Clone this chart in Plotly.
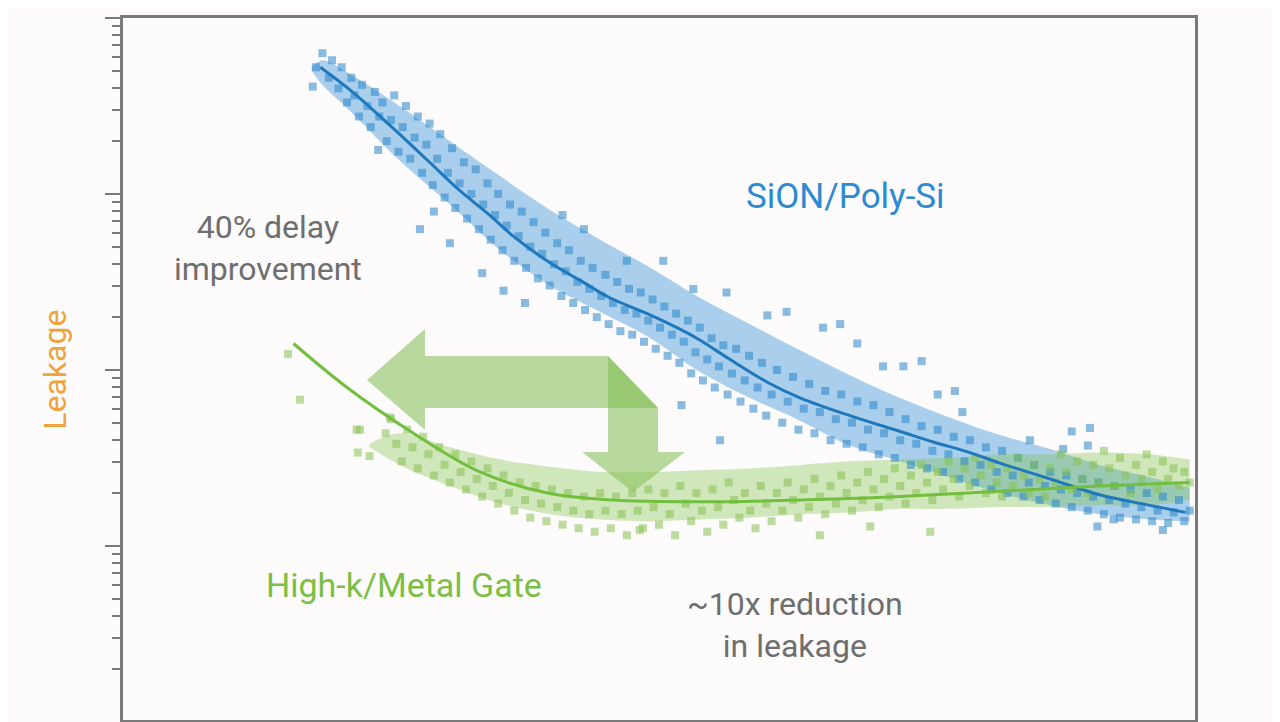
import plotly.graph_objects as go

# Delay (a.u., 0-100 across the plot) and log10(leakage)
sion_fit_delay = [18.4, 21.2, 24.0, 25.8, 28.6, 31.4, 34.2, 36.4, 39.8, 42.6, 45.4, 48.9, 52.0,
                  53.8, 56.6, 60.1, 63.2, 67.8, 72.5, 75.6, 79.0, 81.8, 86.5, 91.1, 95.8, 99.1]
sion_fit_log = [3.72, 3.59, 3.44, 3.34, 3.18, 3.02, 2.88, 2.76, 2.61, 2.51, 2.41, 2.32, 2.23,
                2.17, 2.06, 1.93, 1.84, 1.74, 1.65, 1.59, 1.53, 1.47, 1.38, 1.29, 1.23, 1.19]

hkmg_fit_delay = [15.9, 20.9, 27.1, 33.3, 39.6, 45.7, 53.5, 63.2, 72.5, 81.8, 91.1, 99.5]
hkmg_fit_log = [2.15, 1.90, 1.64, 1.42, 1.30, 1.26, 1.25, 1.26, 1.28, 1.31, 1.34, 1.36]

# dense core of each cloud (upper / lower edge)
sion_core_delay = [17.6, 18.6, 21.2, 25.8, 30.5, 35.2, 39.8, 44.5, 49.2, 53.8, 58.5, 63.2, 67.8,
                   72.5, 77.1, 81.8, 86.5, 91.1, 95.8, 99.5]
sion_core_top = [3.72, 3.76, 3.68, 3.50, 3.30, 3.10, 2.91, 2.74, 2.58, 2.41, 2.26, 2.11, 1.97,
                 1.84, 1.73, 1.63, 1.55, 1.46, 1.39, 1.33]
sion_core_bottom = [3.70, 3.62, 3.47, 3.19, 2.94, 2.68, 2.48, 2.33, 2.18, 1.99, 1.84, 1.71, 1.57,
                    1.48, 1.39, 1.30, 1.23, 1.18, 1.15, 1.14]

hkmg_core_delay = [23.0, 25.8, 30.5, 35.2, 39.8, 44.5, 49.2, 53.8, 58.5, 63.2, 67.8, 72.5, 77.1,
                   81.8, 86.5, 91.1, 95.8, 99.5]
hkmg_core_top = [1.58, 1.64, 1.56, 1.49, 1.45, 1.42, 1.42, 1.43, 1.44, 1.46, 1.48, 1.49, 1.50,
                 1.52, 1.52, 1.53, 1.52, 1.49]
hkmg_core_bottom = [1.56, 1.46, 1.34, 1.24, 1.18, 1.15, 1.14, 1.15, 1.16, 1.18, 1.19, 1.21, 1.21,
                    1.22, 1.22, 1.23, 1.23, 1.26]

sion_points = [
    (17.7, 3.61), (18.0, 3.72), (18.6, 3.80), (19.2, 3.66), (19.5, 3.76), (20.1, 3.60), (20.4, 3.72),
    (20.9, 3.52), (21.3, 3.66), (21.6, 3.56), (22.0, 3.44), (22.3, 3.62), (22.8, 3.50), (23.1, 3.38),
    (23.5, 3.58), (23.9, 3.44), (24.2, 3.52), (24.6, 3.30), (23.8, 3.25),
    (25.0, 3.42), (25.3, 3.56), (25.7, 3.24), (26.1, 3.38), (26.4, 3.50), (26.8, 3.20), (27.2, 3.32),
    (27.5, 3.44), (27.9, 3.12), (28.3, 3.28), (28.6, 3.40), (28.9, 3.05), (29.3, 3.20), (29.6, 3.34),
    (30.0, 2.98), (30.3, 3.12), (30.7, 3.26), (31.0, 2.92), (31.4, 3.06), (31.8, 3.18), (32.1, 2.86),
    (32.5, 3.00), (27.7, 2.80), (30.5, 2.72), (29.0, 2.90),
    (32.9, 3.14), (33.2, 2.80), (33.6, 2.94), (34.0, 3.06), (34.3, 2.74), (34.7, 2.88), (35.0, 3.00),
    (35.4, 2.68), (35.8, 2.82), (36.1, 2.94), (36.5, 2.62), (36.9, 2.76), (37.2, 2.90), (37.6, 2.58),
    (38.0, 2.70), (38.3, 2.84), (38.7, 2.52), (39.1, 2.66), (39.4, 2.78), (39.8, 2.48), (40.2, 2.60),
    (40.5, 2.72), (40.9, 2.42), (41.3, 2.56), (41.6, 2.68), (42.0, 2.38), (42.4, 2.50), (42.7, 2.62),
    (43.1, 2.34), (43.5, 2.46), (43.8, 2.58), (33.5, 2.55), (35.5, 2.45), (37.5, 2.38), (41.0, 2.88),
    (43.0, 2.80),
    (44.2, 2.30), (44.6, 2.42), (45.0, 2.54), (45.3, 2.26), (45.7, 2.38), (46.1, 2.50), (46.4, 2.22),
    (46.8, 2.34), (47.2, 2.46), (47.5, 2.20), (47.9, 2.32), (48.3, 2.44), (48.6, 2.16), (49.0, 2.28),
    (49.4, 2.40), (49.7, 2.12), (50.1, 2.24), (50.5, 2.36), (50.8, 2.08), (51.2, 2.20), (51.6, 2.32),
    (51.9, 2.04), (52.3, 2.16), (52.7, 2.28), (53.0, 1.98), (53.4, 2.10), (53.8, 2.24), (54.1, 1.94),
    (54.5, 2.06), (54.9, 2.18), (55.2, 1.90), (55.6, 2.02), (56.0, 2.14), (52.1, 1.80), (55.7, 1.60),
    (56.3, 2.44), (53.2, 2.46), (50.4, 2.62), (47.0, 2.62),
    (56.4, 1.86), (56.8, 1.98), (57.2, 2.12), (57.6, 1.82), (58.0, 1.94), (58.4, 2.08), (58.8, 1.78),
    (59.2, 1.90), (59.6, 2.04), (60.0, 1.74), (60.5, 1.86), (61.0, 2.00), (61.5, 1.70), (62.0, 1.82),
    (62.5, 1.96), (63.0, 1.66), (63.5, 1.78), (64.0, 1.92), (64.5, 1.64), (65.0, 1.76), (65.5, 1.88),
    (66.0, 1.60), (66.5, 1.72), (67.0, 1.86), (67.5, 1.58), (68.0, 1.70), (68.5, 1.82), (69.0, 1.56),
    (69.5, 1.66), (70.0, 1.80), (60.1, 2.31), (61.9, 2.33), (65.3, 2.24), (66.9, 2.26), (68.5, 2.15),
    (70.9, 2.02), (72.8, 2.02), (74.5, 2.05), (76.0, 1.86), (77.6, 1.88), (78.3, 1.76),
    (70.5, 1.52), (71.0, 1.64), (71.5, 1.76), (72.0, 1.50), (72.5, 1.60), (73.0, 1.72), (73.5, 1.46),
    (74.0, 1.58), (74.5, 1.68), (75.0, 1.44), (75.5, 1.54), (76.0, 1.66), (76.5, 1.42), (77.0, 1.52),
    (77.5, 1.62), (78.0, 1.38), (78.5, 1.48), (79.0, 1.60), (79.5, 1.36), (80.0, 1.46), (80.5, 1.56),
    (81.0, 1.32), (81.5, 1.42), (82.0, 1.54), (82.5, 1.30), (83.0, 1.40), (83.5, 1.50), (84.0, 1.28),
    (84.5, 1.36), (85.0, 1.46), (85.5, 1.26), (86.0, 1.34), (84.6, 1.60), (88.5, 1.65), (90.2, 1.67),
    (90.0, 1.57), (87.7, 1.55), (90.9, 1.11), (92.4, 1.15), (97.0, 1.09),
    (86.5, 1.42), (87.0, 1.24), (87.5, 1.32), (88.0, 1.40), (88.5, 1.22), (89.0, 1.30), (89.5, 1.38),
    (90.0, 1.20), (90.5, 1.28), (91.0, 1.36), (91.5, 1.18), (92.0, 1.26), (92.5, 1.34), (93.0, 1.16),
    (93.5, 1.24), (94.0, 1.32), (94.5, 1.15), (95.0, 1.22), (95.5, 1.30), (96.0, 1.14), (96.5, 1.20),
    (97.0, 1.28), (97.5, 1.13), (98.0, 1.19), (98.5, 1.26), (99.0, 1.14), (99.5, 1.20),
]

hkmg_points = [
    (15.4, 2.09), (16.5, 1.83), (21.8, 1.66), (24.9, 1.73), (21.9, 1.53), (23.0, 1.51), (22.1, 1.66),
    (24.5, 1.64), (25.0, 1.72), (25.5, 1.58), (26.0, 1.48), (26.5, 1.66), (27.0, 1.56), (27.5, 1.44),
    (28.0, 1.62), (28.5, 1.52), (29.0, 1.40), (29.5, 1.56), (30.0, 1.46), (30.5, 1.36), (31.0, 1.52),
    (31.5, 1.42), (32.0, 1.32), (32.5, 1.48), (33.0, 1.38), (33.5, 1.28), (34.0, 1.44), (34.5, 1.34),
    (35.0, 1.24), (35.5, 1.40), (36.0, 1.30), (36.5, 1.20), (37.0, 1.36), (37.5, 1.26), (38.0, 1.16),
    (38.5, 1.34), (39.0, 1.24), (39.5, 1.14), (40.0, 1.32), (40.5, 1.22), (41.0, 1.12), (41.5, 1.30),
    (42.0, 1.20), (42.5, 1.10), (43.0, 1.28), (43.5, 1.18), (44.0, 1.08), (44.5, 1.30), (45.0, 1.20),
    (45.5, 1.10), (46.0, 1.28), (46.5, 1.18), (47.0, 1.06), (47.5, 1.30), (48.0, 1.20), (48.5, 1.10),
    (49.0, 1.32), (49.5, 1.22), (50.0, 1.12), (50.5, 1.30), (51.0, 1.18), (51.5, 1.06), (52.0, 1.34),
    (52.5, 1.24), (53.0, 1.14), (53.5, 1.30), (54.0, 1.20), (54.5, 1.08), (55.0, 1.32), (55.5, 1.22),
    (56.0, 1.12), (56.5, 1.36), (57.0, 1.26), (57.5, 1.16), (58.0, 1.30), (58.5, 1.20), (59.0, 1.10),
    (59.5, 1.34), (60.0, 1.24), (60.5, 1.14), (61.0, 1.30), (61.5, 1.20), (62.0, 1.36), (62.5, 1.26),
    (63.0, 1.16), (63.5, 1.32), (64.0, 1.22), (64.5, 1.38), (65.0, 1.28), (65.5, 1.18), (66.0, 1.34),
    (66.5, 1.24), (67.0, 1.40), (67.5, 1.30), (68.0, 1.20), (68.5, 1.36), (69.0, 1.26), (69.5, 1.42),
    (70.0, 1.32), (70.5, 1.22), (71.0, 1.38), (71.5, 1.28), (72.0, 1.44), (72.5, 1.34), (73.0, 1.24),
    (73.5, 1.40), (74.0, 1.30), (74.5, 1.46), (75.0, 1.36), (75.5, 1.26), (76.0, 1.42), (76.5, 1.32),
    (77.0, 1.48), (77.5, 1.38), (78.0, 1.28), (78.5, 1.44), (79.0, 1.34), (79.5, 1.50), (80.0, 1.40),
    (80.5, 1.30), (81.0, 1.46), (81.5, 1.36), (82.0, 1.28), (82.5, 1.44), (83.0, 1.34), (83.5, 1.50),
    (84.0, 1.40), (84.5, 1.30), (85.0, 1.46), (85.5, 1.38), (86.0, 1.28), (86.5, 1.44), (87.0, 1.36),
    (87.5, 1.52), (88.0, 1.42), (88.5, 1.32), (89.0, 1.48), (89.5, 1.38), (90.0, 1.30), (90.5, 1.46),
    (91.0, 1.36), (91.5, 1.54), (92.0, 1.44), (92.5, 1.34), (93.0, 1.50), (93.5, 1.40), (94.0, 1.30),
    (94.5, 1.46), (95.0, 1.38), (95.5, 1.52), (96.0, 1.42), (96.5, 1.32), (97.0, 1.48), (97.5, 1.38),
    (98.0, 1.44), (98.5, 1.34), (99.0, 1.42), (99.5, 1.36),
    (69.7, 1.11), (75.3, 1.08), (65.0, 1.06), (48.2, 1.09),
]

FONT = "Roboto, sans-serif"
BLUE = "#2b8ad0"
GREEN = "#72bf3e"
AXIS = "#7a7a7a"
BG = "#fdfbfb"

fig = go.Figure()

# bandes denses (coeur des nuages)
for delay, top, bottom, color in [
    (sion_core_delay, sion_core_top, sion_core_bottom, "rgba(52,146,214,0.42)"),
    (hkmg_core_delay, hkmg_core_top, hkmg_core_bottom, "rgba(128,196,74,0.36)"),
]:
    fig.add_trace(go.Scatter(x=delay, y=[10 ** v for v in top], mode="lines",
                             line=dict(width=0, shape="spline"), hoverinfo="skip"))
    fig.add_trace(go.Scatter(x=delay, y=[10 ** v for v in bottom], mode="lines",
                             line=dict(width=0, shape="spline"), fill="tonexty",
                             fillcolor=color, hoverinfo="skip"))

# nuages de points
fig.add_trace(go.Scatter(
    x=[p[0] for p in sion_points], y=[10 ** p[1] for p in sion_points],
    mode="markers", marker=dict(symbol="square", size=8, color="#2a86cc", opacity=0.55),
    hoverinfo="skip"))
fig.add_trace(go.Scatter(
    x=[p[0] for p in hkmg_points], y=[10 ** p[1] for p in hkmg_points],
    mode="markers", marker=dict(symbol="square", size=8, color="#86c152", opacity=0.55),
    hoverinfo="skip"))

# courbes de tendance
fig.add_trace(go.Scatter(x=sion_fit_delay, y=[10 ** v for v in sion_fit_log], mode="lines",
                         line=dict(color="#1e78bd", width=3, shape="spline")))
fig.add_trace(go.Scatter(x=hkmg_fit_delay, y=[10 ** v for v in hkmg_fit_log], mode="lines",
                         line=dict(color=GREEN, width=3, shape="spline")))

# flèches (coordonnées papier)
arrow_fill = "rgba(128,190,80,0.55)"
fig.add_shape(type="path", xref="paper", yref="paper", layer="above", line_width=0,
              fillcolor=arrow_fill,
              path="M 0.2276 0.4843 L 0.2817 0.5570 L 0.2817 0.5185 L 0.4524 0.5185 "
                   "L 0.4991 0.4444 L 0.2817 0.4444 L 0.2817 0.4131 Z")
fig.add_shape(type="path", xref="paper", yref="paper", layer="above", line_width=0,
              fillcolor=arrow_fill,
              path="M 0.4524 0.5185 L 0.4991 0.4444 L 0.4991 0.3818 L 0.5243 0.3818 "
                   "L 0.4757 0.3248 L 0.4282 0.3818 L 0.4524 0.3818 Z")

labels = [
    ("40% delay<br>improvement", 0.135, 0.672, 32, "#6e6e6e", 0),
    ("SiON/Poly-Si", 0.674, 0.746, 35, BLUE, 0),
    ("High-k/Metal Gate", 0.262, 0.192, 34, "#7bbf45", 0),
    ("~10x reduction<br>in leakage", 0.627, 0.135, 32, "#6e6e6e", 0),
    ("Leakage", -0.0634, 0.499, 32, "#f0a33a", -90),
]
for text, x, y, size, color, angle in labels:
    fig.add_annotation(text=text, xref="paper", yref="paper", x=x, y=y, xanchor="center",
                       yanchor="middle", textangle=angle, showarrow=False,
                       font=dict(family=FONT, size=size, color=color))

fig.update_layout(
    width=1272, height=714,
    margin=dict(l=115, r=85, t=10, b=2),
    paper_bgcolor=BG, plot_bgcolor=BG,
    showlegend=False,
    xaxis=dict(range=[0, 100], showgrid=False, zeroline=False, showticklabels=False, ticks="",
               showline=True, linecolor=AXIS, linewidth=3, mirror=True),
    yaxis=dict(type="log", range=[0.01, 4], dtick=1, showgrid=False, zeroline=False,
               showticklabels=False, ticks="outside", ticklen=15, tickwidth=2, tickcolor=AXIS,
               showline=True, linecolor=AXIS, linewidth=3, mirror=True,
               minor=dict(ticks="outside", ticklen=8, tickwidth=2, tickcolor=AXIS, dtick="D1",
                          showgrid=False)),
)

fig.write_html("out.html")
